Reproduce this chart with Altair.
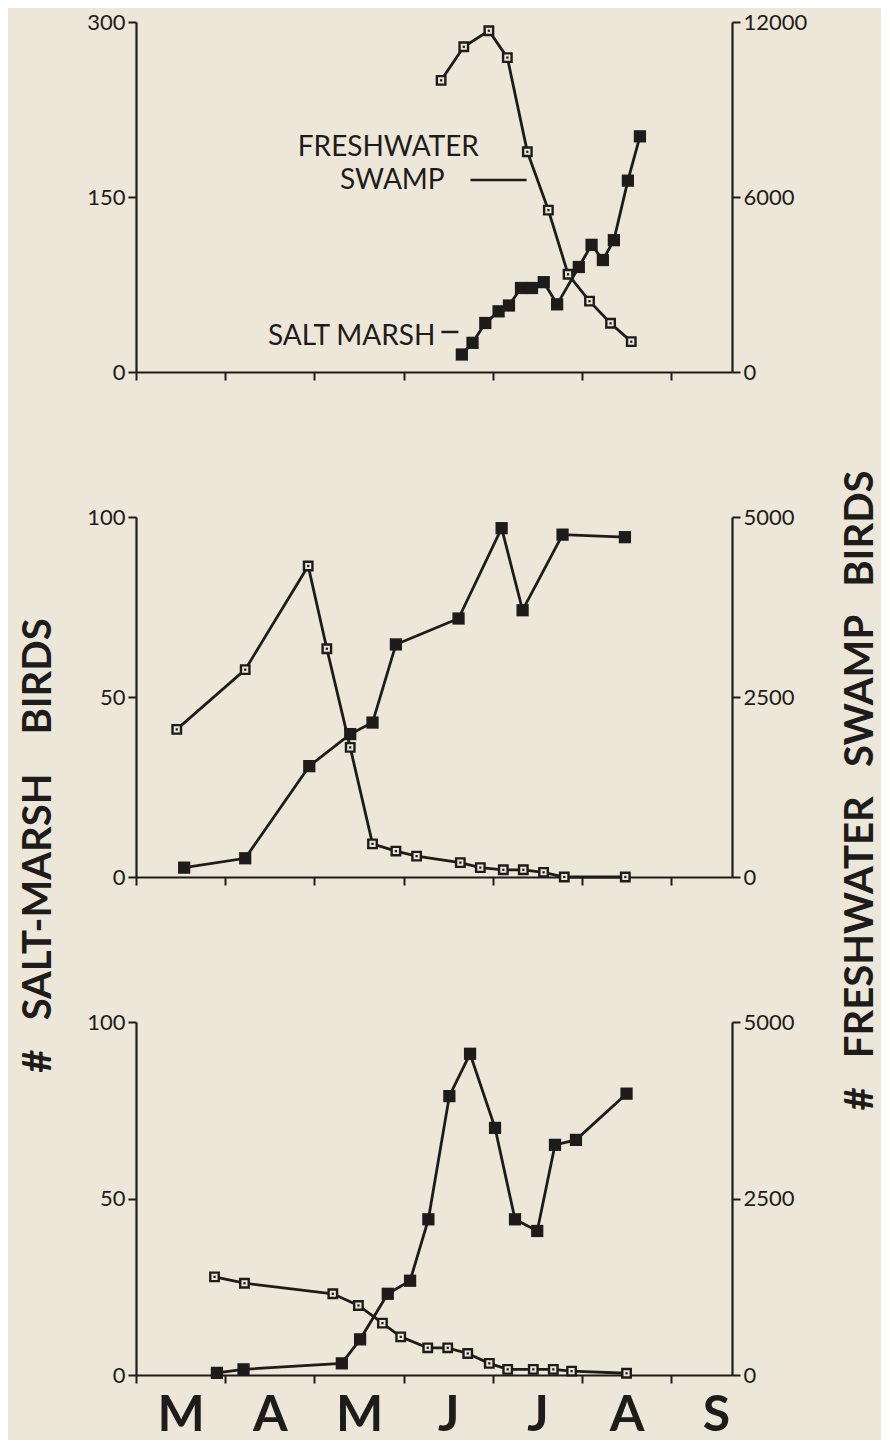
import altair as alt
import pandas as pd

BG = "#ece7d8"
INK = "#1e1c1a"
FONT = "Lato"

# x is measured in months after 1 March
MONTHS = ["M", "A", "M", "J", "J", "A", "S"]
MONTH_STARTS = [0, 1, 2, 3, 4, 5, 6]
X_END = 6.68

# ---------- top panel ----------
p1_salt_m = [3.652, 3.772, 3.915, 4.064, 4.18, 4.315, 4.438, 4.57, 4.72, 4.963, 5.106, 5.233, 5.356, 5.513, 5.648]
p1_salt_v = [15, 25, 42, 52, 57, 72, 72, 77, 58, 90, 109, 96, 113, 164, 202]
p1_fresh_m = [3.42, 3.674, 3.955, 4.162, 4.386, 4.622, 4.843, 5.083, 5.319, 5.551]
p1_fresh_v = [10000, 11150, 11700, 10780, 7550, 5550, 3350, 2430, 1670, 1040]

# ---------- middle panel ----------
p2_salt_m = [0.540, 1.224, 1.942, 2.401, 2.651, 2.913, 3.615, 4.098, 4.333, 4.781, 5.480]
p2_salt_v = [2.6, 5.2, 30.8, 39.7, 42.9, 64.6, 71.8, 96.9, 74.1, 95.1, 94.4]
p2_fresh_m = [0.457, 1.224, 1.930, 2.139, 2.401, 2.651, 2.913, 3.145, 3.635, 3.859, 4.117, 4.341, 4.568, 4.80, 5.484]
p2_fresh_v = [2050, 2880, 4320, 3170, 1800, 460, 360, 290, 200, 130, 100, 100, 65, 0, 0]

# ---------- bottom panel ----------
p3_salt_m = [0.907, 1.205, 2.307, 2.512, 2.822, 3.072, 3.277, 3.512, 3.744, 4.024, 4.248, 4.497, 4.696, 4.931, 5.498]
p3_salt_v = [0.6, 1.6, 3.3, 10.1, 23, 26.7, 44.1, 79, 91, 70, 44.1, 40.8, 65.2, 66.6, 79.7]
p3_fresh_m = [0.880, 1.216, 2.206, 2.493, 2.762, 2.967, 3.270, 3.494, 3.718, 3.960, 4.166, 4.453, 4.677, 4.882, 5.498]
p3_fresh_v = [1390, 1300, 1150, 985, 735, 540, 385, 385, 305, 165, 80, 80, 80, 55, 25]

# ---------- top-panel labels ----------
note_text = ["FRESHWATER", "SWAMP"]
note_m = [2.828, 2.873]
note_v = [185, 157]
salt_note_text = ["SALT MARSH"]
salt_note_m = [3.356]
salt_note_v = [23]
pointer_m = [3.749, 3.423]
pointer_m2 = [4.378, 3.614]
pointer_v = [164.6, 34.3]

SP = "\u00a0"
LEFT_TITLE = "#" + SP * 3 + "SALT-MARSH" + SP * 4 + "BIRDS"
RIGHT_TITLE = "#" + SP * 3 + "FRESHWATER" + SP * 3 + "SWAMP" + SP * 3 + "BIRDS"

month_expr = "[" + ",".join("'%s'" % m for m in MONTHS) + "][datum.value]"


def x_channel(bottom, field="m"):
    if bottom:
        axis = alt.Axis(values=MONTH_STARTS, labelExpr=month_expr, labelOffset=44.6,
                        labelFont=FONT, labelFontSize=50, labelFontWeight="bold",
                        labelPadding=7, labelFlush=False, labelOverlap=False,
                        labelColor=INK)
    else:
        axis = alt.Axis(values=MONTH_STARTS, labels=False)
    return alt.X(field + ":Q", scale=alt.Scale(domain=[0, X_END], nice=False, zero=False),
                 axis=axis, title=None)


def panel(salt_m, salt_v, fresh_m, fresh_v, lmax, rmax, height, bottom=False,
          titles=False, notes=False):
    salt = pd.DataFrame({"m": salt_m, "v": salt_v})
    fresh = pd.DataFrame({"m": fresh_m, "f": fresh_v})

    lscale = alt.Scale(domain=[0, lmax], nice=False, zero=True)
    rscale = alt.Scale(domain=[0, rmax], nice=False, zero=True)
    if titles:
        laxis = alt.Axis(values=[0, lmax / 2, lmax], format="d", title=LEFT_TITLE,
                         titleAngle=270, titleX=-86, titleY=328, titleAlign="center",
                         titleBaseline="alphabetic", titleFont=FONT, titleFontSize=40,
                         titleFontWeight="bold", titleColor=INK)
        raxis = alt.Axis(values=[0, rmax / 2, rmax], format="d", orient="right",
                         title=RIGHT_TITLE, titleAngle=270, titleX=140, titleY=273,
                         titleAlign="center", titleBaseline="alphabetic", titleFont=FONT,
                         titleFontSize=40, titleFontWeight="bold", titleColor=INK)
    else:
        laxis = alt.Axis(values=[0, lmax / 2, lmax], format="d", title=None)
        raxis = alt.Axis(values=[0, rmax / 2, rmax], format="d", orient="right", title=None)

    ly = alt.Y("v:Q", scale=lscale, axis=laxis)
    ry = alt.Y("f:Q", scale=rscale, axis=raxis)

    xc = x_channel(bottom)

    salt_line = alt.Chart(salt).mark_line(color=INK, strokeWidth=2.8).encode(x=xc, y=ly)
    salt_pts = alt.Chart(salt).mark_point(shape="square", filled=True, color=INK,
                                          size=150, opacity=1).encode(x=xc, y=ly)
    left_layers = [salt_line, salt_pts]

    if notes:
        nt = pd.DataFrame({"m": note_m, "v": note_v, "t": note_text})
        st = pd.DataFrame({"m": salt_note_m, "v": salt_note_v, "t": salt_note_text})
        pt = pd.DataFrame({"m": pointer_m, "m2": pointer_m2, "v": pointer_v})
        left_layers.append(alt.Chart(nt).mark_text(font=FONT, fontSize=28, color=INK,
                                                    align="center", baseline="alphabetic")
                           .encode(x=xc, y=ly, text="t:N"))
        left_layers.append(alt.Chart(st).mark_text(font=FONT, fontSize=28, color=INK,
                                                    align="right", baseline="alphabetic")
                           .encode(x=xc, y=ly, text="t:N"))
        left_layers.append(alt.Chart(pt).mark_rule(color=INK, strokeWidth=2.5)
                           .encode(x=xc, x2="m2:Q", y=ly))

    fresh_line = alt.Chart(fresh).mark_line(color=INK, strokeWidth=2.8).encode(x=xc, y=ry)
    fresh_pts = alt.Chart(fresh).mark_point(shape="square", filled=True, fill=BG,
                                            stroke=INK, strokeWidth=2.4, size=72,
                                            opacity=1).encode(x=xc, y=ry)
    fresh_dot = alt.Chart(fresh).mark_point(shape="square", filled=True, color=INK,
                                            size=5, opacity=1).encode(x=xc, y=ry)

    left = alt.layer(*left_layers)
    right = alt.layer(fresh_line, fresh_pts, fresh_dot)
    return (alt.layer(left, right)
            .resolve_scale(y="independent")
            .properties(width=596, height=height))


top = panel(p1_salt_m, p1_salt_v, p1_fresh_m, p1_fresh_v, 300, 12000, 350, notes=True)
mid = panel(p2_salt_m, p2_salt_v, p2_fresh_m, p2_fresh_v, 100, 5000, 360, titles=True)
bot = panel(p3_salt_m, p3_salt_v, p3_fresh_m, p3_fresh_v, 100, 5000, 353, bottom=True)

chart = (alt.vconcat(top, mid, bot, spacing=145, bounds="flush")
         .properties(background=BG, padding={"left": 10, "top": 3, "right": 0, "bottom": 0})
         .configure_view(strokeWidth=0)
         .configure_axis(domainColor=INK, domainWidth=2.2, tickColor=INK, tickWidth=2,
                         tickSize=8, labelFont=FONT, labelFontSize=22, labelColor=INK,
                         labelPadding=3, grid=False))

chart.save("out.html", embed_options={"renderer": "svg", "actions": False})
